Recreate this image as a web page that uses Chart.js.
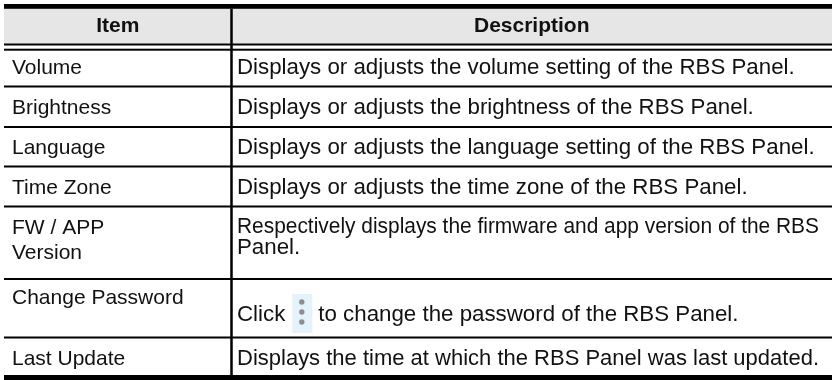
<!DOCTYPE html>
<html>
<head>
<meta charset="utf-8">
<script src="https://cdn.jsdelivr.net/npm/chart.js@4/dist/chart.umd.min.js"></script>
<style>
  html, body { margin: 0; padding: 0; background: #ffffff; }
  #wrap { width: 834px; height: 380px; position: relative; }
</style>
</head>
<body>
<div id="wrap"><canvas id="c" width="834" height="380"></canvas></div>
<script>
// ---- table content ----
const headers = ['Item', 'Description'];
const items = [
  ['Volume'],
  ['Brightness'],
  ['Language'],
  ['Time Zone'],
  ['FW / APP', 'Version'],
  ['Change Password'],
  ['Last Update']
];
const descriptions = [
  ['Displays or adjusts the volume setting of the RBS Panel.'],
  ['Displays or adjusts the brightness of the RBS Panel.'],
  ['Displays or adjusts the language setting of the RBS Panel.'],
  ['Displays or adjusts the time zone of the RBS Panel.'],
  ['Respectively displays the firmware and app version of the RBS', 'Panel.'],
  ['Click', 'to change the password of the RBS Panel.'],
  ['Displays the time at which the RBS Panel was last updated.']
];
const iconRow = 5; // row whose description contains the "more" icon

// ---- layout (table units == scale values) ----
const layout = {
  left: 4, right: 832, divider: 231.5,
  topRule: [4, 8.8], headFill: [8.8, 43.5], headLines: [44.5, 49.7],
  rowLines: [86.5, 127, 166.5, 206.5, 279, 337.5],
  bottomRule: [375, 380],
  headY: 24.5,
  itemX: 12, itemY: [66.5, 106.5, 146.5, 186.5, 226, 296, 357], itemGap: 25,
  descX: 237, descY: [66.5, 106.5, 146.5, 186.5, 225, 313, 357], descGap: 21,
  descMaxWidth: 582
};
const FONT = '"Liberation Sans", Arial, Helvetica, sans-serif';
const HEAD_SIZE = 21, ITEM_SIZE = 21, DESC_SIZE = 22.3;

const tablePlugin = {
  id: 'tableDraw',
  afterDraw(chart) {
    const ctx = chart.ctx, xs = chart.scales.x, ys = chart.scales.y;
    const X = v => xs.getPixelForValue(v), Y = v => ys.getPixelForValue(v);
    const hRule = (y0, y1) => ctx.fillRect(X(layout.left), Y(y0), X(layout.right) - X(layout.left), Y(y1) - Y(y0));
    ctx.save();
    // header fill
    ctx.fillStyle = '#e6e6e6';
    hRule(layout.headFill[0], layout.headFill[1]);
    // rules
    ctx.fillStyle = '#000000';
    hRule(layout.topRule[0], layout.topRule[1]);
    layout.headLines.forEach(y => hRule(y - 1, y + 1));
    layout.rowLines.forEach(y => hRule(y - 1, y + 1));
    hRule(layout.bottomRule[0], layout.bottomRule[1]);
    // column divider
    ctx.fillRect(X(layout.divider - 1.25), Y(layout.topRule[1]), 2.5, Y(layout.bottomRule[0]) - Y(layout.topRule[1]));

    // text: alphabetic baseline = cap center + capHeight/2
    const capHalf = s => s * 0.716 / 2;
    ctx.fillStyle = '#111111';
    ctx.textBaseline = 'alphabetic';
    // header
    ctx.font = 'bold ' + HEAD_SIZE + 'px ' + FONT;
    ctx.textAlign = 'center';
    ctx.fillText(headers[0], X((layout.left + layout.divider) / 2), Y(layout.headY + capHalf(HEAD_SIZE)));
    ctx.fillText(headers[1], X((layout.divider + layout.right) / 2), Y(layout.headY + capHalf(HEAD_SIZE)));
    // items
    ctx.font = ITEM_SIZE + 'px ' + FONT;
    ctx.textAlign = 'left';
    items.forEach((lines, i) => {
      lines.forEach((t, k) => ctx.fillText(t, X(layout.itemX), Y(layout.itemY[i] + k * layout.itemGap + capHalf(ITEM_SIZE))));
    });
    // descriptions
    ctx.font = DESC_SIZE + 'px ' + FONT;
    const ch = capHalf(DESC_SIZE);
    descriptions.forEach((lines, i) => {
      const y0 = layout.descY[i];
      if (i === iconRow) {
        const x0 = X(layout.descX);
        ctx.fillText(lines[0], x0, Y(y0 + ch));
        const bx = x0 + ctx.measureText(lines[0]).width + 7;
        ctx.fillStyle = '#e4f2fb';
        ctx.fillRect(bx, Y(y0 - 19), 20, Y(y0 + 20) - Y(y0 - 19));
        ctx.fillStyle = '#8e8e8e';
        [-10, 0, 10].forEach(d => {
          ctx.beginPath();
          ctx.arc(bx + 9.5, Y(y0 + d - 1), 2.7, 0, Math.PI * 2);
          ctx.fill();
        });
        ctx.fillStyle = '#111111';
        ctx.fillText(lines[1], bx + 26, Y(y0 + ch));
      } else {
        lines.forEach((t, k) => ctx.fillText(t, X(layout.descX), Y(y0 + k * layout.descGap + ch), layout.descMaxWidth));
      }
    });
    ctx.restore();
  }
};

new Chart(document.getElementById('c'), {
  type: 'scatter',
  data: { datasets: [{ data: [], pointRadius: 0 }] },
  options: {
    responsive: false,
    animation: false,
    layout: { padding: 0 },
    plugins: { legend: { display: false }, tooltip: { enabled: false } },
    scales: {
      x: { type: 'linear', min: 0, max: 834, display: false },
      y: { type: 'linear', min: 0, max: 380, reverse: true, display: false }
    }
  },
  plugins: [tablePlugin]
});
</script>
</body>
</html>
